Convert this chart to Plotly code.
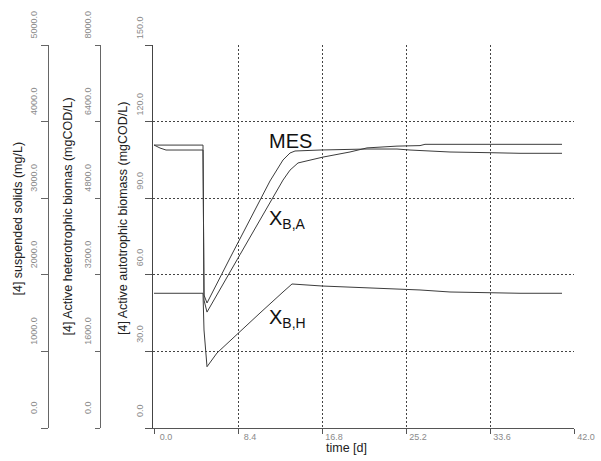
import plotly.graph_objects as go

# ---------------- data ----------------
# [4] suspended solids (MES), mg/L  -> axis 0..5000
mes_t = [0, 0.6, 1.2, 4.9, 5.0, 5.3, 7.6, 10.6, 11.6, 12.9, 13.6, 14.1, 16.6,
         21.3, 24.3, 25.6, 29.6, 33.6, 36.6, 40.8]
mes_v = [3694, 3655, 3629, 3629, 1736, 1632, 2219, 2977, 3225, 3499, 3590, 3616,
         3629, 3642, 3642, 3629, 3603, 3594, 3586, 3586]

# [4] Active autotrophic biomass (X_B,A), mgCOD/L -> axis 0..150
xba_t = [0, 4.9, 5.0, 5.3, 8.6, 11.8, 12.9, 13.6, 14.4, 16.9, 19.6, 21.3, 24.3,
         26.6, 27.1, 40.8]
xba_v = [110.8, 110.8, 50.1, 45.4, 67.9, 89.3, 97.1, 101.0, 103.8, 106.1, 108.1,
         109.7, 110.4, 110.6, 111.1, 111.1]

# [4] Active heterotrophic biomass (X_B,H), mgCOD/L -> axis 0..8000
xbh_t = [0, 4.9, 5.0, 5.3, 6.3, 8.4, 10.6, 12.9, 13.8, 16.8, 25.3, 26.6, 29.6,
         33.6, 36.6, 40.8]
xbh_v = [2814, 2814, 2047, 1280, 1567, 1984, 2402, 2841, 3008, 2966, 2903, 2883,
         2841, 2826, 2814, 2814]

x_ticks = [0.0, 8.4, 16.8, 25.2, 33.6, 42.0]
y1_ticks = [0, 30, 60, 90, 120, 150]
y2_ticks = [0, 1600, 3200, 4800, 6400, 8000]
y3_ticks = [0, 1000, 2000, 3000, 4000, 5000]

x_title = "time [d]"
y1_title = "[4] Active autotrophic biomass (mgCOD/L)"
y2_title = "[4] Active heterotrophic biomas (mgCOD/L)"
y3_title = "[4] suspended solids (mg/L)"
labels = ["MES", "X<sub>B,A</sub>", "X<sub>B,H</sub>"]

# ---------------- layout geometry ----------------
W, H = 601, 461
T, B = 45, 33
PH = H - T - B


def px(x):
    return x / W


def py(y):
    return (H - B - y) / PH


LINE = "#3c3c3c"
TICKC = "#8a8a8a"
FONT = "Liberation Sans, Arial, sans-serif"

fig = go.Figure()
fig.add_trace(go.Scatter(x=xba_t, y=xba_v, mode="lines", yaxis="y",
                         line=dict(color=LINE, width=1), showlegend=False,
                         hoverinfo="skip"))
fig.add_trace(go.Scatter(x=xbh_t, y=xbh_v, mode="lines", yaxis="y2",
                         line=dict(color=LINE, width=1), showlegend=False,
                         hoverinfo="skip"))
fig.add_trace(go.Scatter(x=mes_t, y=mes_v, mode="lines", yaxis="y3",
                         line=dict(color=LINE, width=1), showlegend=False,
                         hoverinfo="skip"))

tickfont = dict(family=FONT, size=9, color=TICKC)

fig.update_layout(
    template="none",
    width=W, height=H,
    margin=dict(l=0, r=0, t=T, b=B, pad=0),
    paper_bgcolor="white", plot_bgcolor="white",
    font=dict(family=FONT, color="#222"),
    xaxis=dict(domain=[px(153), px(574)], range=[-0.1, 42.0],
               tickvals=x_ticks, tickformat=".1f", ticks="outside", ticklen=5,
               tickcolor="#555", showline=True, linecolor="#555", linewidth=1,
               showgrid=True, gridcolor="#444", griddash="2px,2px", gridwidth=1,
               zeroline=False, tickfont=tickfont, ticklabelshift=12,
               ticklabelstandoff=-5, automargin=False),
    yaxis=dict(range=[0, 150], tickvals=y1_ticks, tickformat=".1f",
               ticks="outside", ticklen=7, tickcolor="#555", showline=True,
               linecolor="#444", linewidth=1, showgrid=True, gridcolor="#444",
               griddash="2px,2px", gridwidth=1, zeroline=False,
               tickfont=tickfont, tickangle=-90, ticklabelshift=-16,
               ticklabelstandoff=-2, automargin=False),
    yaxis2=dict(range=[0, 8000], tickvals=y2_ticks, tickformat=".1f",
                overlaying="y", anchor="free", position=px(100), side="left",
                ticks="outside", ticklen=5, tickcolor="#666", showline=True,
                linecolor="#666", linewidth=1, showgrid=False, zeroline=False,
                tickfont=tickfont, tickangle=-90, ticklabelshift=-19,
                automargin=False),
    yaxis3=dict(range=[0, 5000], tickvals=y3_ticks, tickformat=".1f",
                overlaying="y", anchor="free", position=px(48), side="left",
                ticks="outside", ticklen=7, tickcolor="#666", showline=True,
                linecolor="#666", linewidth=1, showgrid=False, zeroline=False,
                tickfont=tickfont, tickangle=-90, ticklabelshift=-19,
                automargin=False),
)

title_font = dict(family=FONT, size=12.5, color="#222")
ann = []
ann.append(dict(text=x_title, x=px(346.5), y=py(448), xref="paper", yref="paper",
                showarrow=False, xanchor="center", yanchor="middle", font=title_font))
ann.append(dict(text=y1_title, x=px(122.5), y=py(218.5), xref="paper", yref="paper",
                showarrow=False, textangle=-90, xanchor="center", yanchor="middle",
                font=title_font))
ann.append(dict(text=y2_title, x=px(68), y=py(216.5), xref="paper", yref="paper",
                showarrow=False, textangle=-90, xanchor="center", yanchor="middle",
                font=title_font))
ann.append(dict(text=y3_title, x=px(17.5), y=py(219), xref="paper", yref="paper",
                showarrow=False, textangle=-90, xanchor="center", yanchor="middle",
                font=title_font))

label_font = dict(family=FONT, size=20, color="#111")
for txt, lx, ly in zip(labels, [267, 267, 267], [141, 219, 318]):
    ann.append(dict(text=txt, x=px(lx), y=py(ly), xref="paper", yref="paper",
                    showarrow=False, xanchor="left", yanchor="middle",
                    font=label_font))

fig.update_layout(annotations=ann)
fig.write_html("out.html",
               config={"displayModeBar": False},
               post_script="document.body.style.margin='0';document.body.style.padding='0';")
